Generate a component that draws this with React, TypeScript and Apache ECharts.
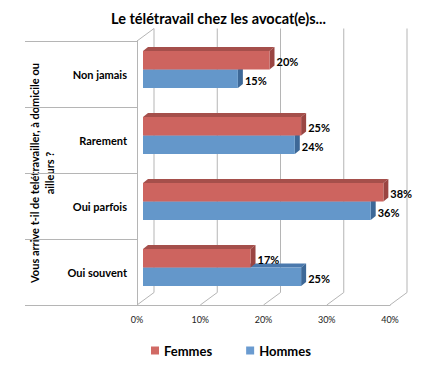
import React, { useEffect, useRef } from "react";
import * as echarts from "echarts";

const categories = ["Non jamais", "Rarement", "Oui parfois", "Oui souvent"];
const femmes = [20, 25, 38, 17];
const hommes = [15, 24, 36, 25];
const xTicks = [0, 10, 20, 30, 40];

const TITLE = "Le télétravail chez les avocat(e)s...";
const AXIS_NAME = ["Vous arrive t-il de telétravailler, à domicile ou", "ailleurs ?"];

const FONT = "Lato, 'Open Sans', sans-serif";

// 3D styling constants
const BAR_H = 18.5;
const DX = 5;
const DY = -4;
const SHIFT_X = 6;
const SHIFT_Y = -4.4;
const WALL_DX = 17;
const WALL_DY = -12.5;

function barRenderer(position: "top" | "bottom", front: string, top: string, side: string) {
  return (params: any, api: any) => {
    const cat = api.value(0);
    const val = api.value(1);
    const start = api.coord([0, cat]);
    const end = api.coord([val, cat]);
    const cy = start[1] + SHIFT_Y;
    const y0 = position === "top" ? cy - BAR_H : cy;
    const y1 = y0 + BAR_H;
    const x0 = start[0] + SHIFT_X;
    const x1 = end[0] + SHIFT_X;
    return {
      type: "group",
      children: [
        {
          type: "polygon",
          shape: { points: [[x0, y0], [x0 + DX, y0 + DY], [x1 + DX, y0 + DY], [x1, y0]] },
          style: { fill: top },
        },
        {
          type: "polygon",
          shape: { points: [[x1, y0], [x1 + DX, y0 + DY], [x1 + DX, y1 + DY], [x1, y1]] },
          style: { fill: side },
        },
        {
          type: "rect",
          shape: { x: x0, y: y0, width: x1 - x0, height: y1 - y0 },
          style: { fill: front },
        },
        {
          type: "text",
          x: x1 + DX + 2,
          y: (y0 + y1) / 2 + 1.5,
          style: {
            text: val + "%",
            fill: "#000",
            font: `bold 11px ${FONT}`,
            align: "left",
            verticalAlign: "middle",
          },
        },
      ],
    };
  };
}

export default function App() {
  const ref = useRef<HTMLDivElement>(null);

  useEffect(() => {
    document.body.style.margin = "0";
    if (!ref.current) return;
    const chart = echarts.init(ref.current, null, { renderer: "svg" });
    const gridColor = "#b5b5b5";

    const option: any = {
      animation: false,
      backgroundColor: "#ffffff",
      title: {
        text: TITLE,
        left: "center",
        top: 6,
        textStyle: { fontFamily: FONT, fontSize: 14.5, fontWeight: "bold", color: "#000" },
      },
      legend: {
        data: ["Femmes", "Hommes"],
        left: 146,
        top: 339,
        itemGap: 34,
        itemWidth: 8,
        itemHeight: 8,
        icon: "rect",
        textStyle: { fontFamily: FONT, fontSize: 13, fontWeight: "bold", color: "#000" },
      },
      grid: { left: 137, top: 41, width: 253, height: 264 },
      xAxis: {
        type: "value",
        min: 0,
        max: 40,
        interval: 10,
        axisLine: { show: true, lineStyle: { color: gridColor } },
        axisTick: { show: false },
        splitLine: { show: false },
        axisLabel: {
          formatter: "{value}%",
          fontFamily: FONT,
          fontSize: 9,
          color: "#222",
          margin: 10,
        },
      },
      yAxis: {
        type: "category",
        data: categories,
        inverse: true,
        axisLine: { show: true, lineStyle: { color: gridColor } },
        axisTick: { show: true, length: 112, lineStyle: { color: gridColor } },
        axisLabel: {
          fontFamily: FONT,
          fontSize: 11,
          fontWeight: "bold",
          color: "#000",
          margin: 10,
        },
        splitLine: { show: false },
      },
      graphic: [
        {
          type: "text",
          x: 42,
          y: 173,
          rotation: Math.PI / 2,
          style: {
            text: AXIS_NAME.join("\n"),
            font: `bold 11px ${FONT}`,
            fill: "#000",
            align: "center",
            verticalAlign: "middle",
            lineHeight: 15,
          },
        },
      ],
      series: [
        {
          name: "walls",
          type: "custom",
          silent: true,
          data: xTicks.map((v) => [v]),
          encode: { x: 0 },
          renderItem: (params: any, api: any) => {
            const v = api.value(0);
            const band = api.size([0, 1])[1];
            const topPt = api.coord([v, 0]);
            const botPt = api.coord([v, categories.length - 1]);
            const xF = topPt[0];
            const yTop = topPt[1] - band / 2;
            const yBot = botPt[1] + band / 2;
            const children: any[] = [
              {
                type: "line",
                shape: { x1: xF, y1: yBot, x2: xF + WALL_DX, y2: yBot + WALL_DY },
                style: { stroke: gridColor, lineWidth: 1 },
              },
              {
                type: "line",
                shape: { x1: xF + WALL_DX, y1: yTop + WALL_DY, x2: xF + WALL_DX, y2: yBot + WALL_DY },
                style: { stroke: gridColor, lineWidth: 1 },
              },
            ];
            if (v === 0) {
              children.push({
                type: "line",
                shape: { x1: xF, y1: yTop, x2: xF + WALL_DX, y2: yTop + WALL_DY },
                style: { stroke: gridColor, lineWidth: 1 },
              });
            }
            return { type: "group", children };
          },
          z: 1,
        },
        {
          name: "Hommes",
          type: "custom",
          itemStyle: { color: "#6a9bd0" },
          data: hommes.map((v, i) => [i, v]),
          encode: { x: 1, y: 0 },
          renderItem: barRenderer("bottom", "#6497ca", "#4b79ad", "#3d6897"),
          z: 2,
        },
        {
          name: "Femmes",
          type: "custom",
          itemStyle: { color: "#d16a65" },
          data: femmes.map((v, i) => [i, v]),
          encode: { x: 1, y: 0 },
          renderItem: barRenderer("top", "#cd645f", "#a54f4b", "#9a4542"),
          z: 3,
        },
      ],
    };

    chart.setOption(option);
    return () => chart.dispose();
  }, []);

  return <div ref={ref} style={{ width: 437, height: 367 }} />;
}
